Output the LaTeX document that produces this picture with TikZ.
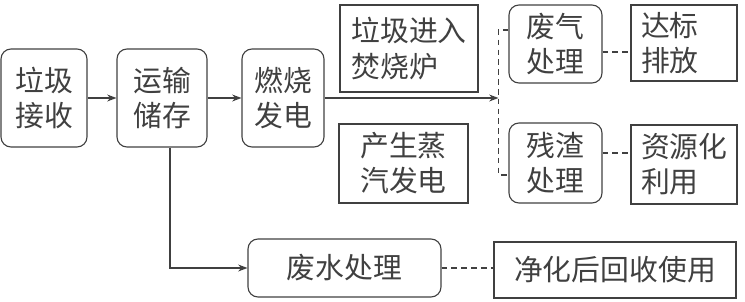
\documentclass[tikz,border=0pt]{standalone}
\usepackage{fontspec}
\newfontfamily\cjk{Noto Sans CJK SC}
\usetikzlibrary{arrows.meta}

\tikzset{
    box/.style={draw, rounded corners=2.5mm, align=left, inner sep=0pt,
        font=\cjk\fontsize{20.5}{25}\selectfont},
    plainbox/.style={box, sharp corners},
    link/.style={dash pattern=on 4pt off 3pt},
}

\begin{document}
\begin{tikzpicture}[>=Stealth, thick, color=black!75]
    \useasboundingbox (0,0) rectangle (18.625,7.525);

    % 主流程
    \node[box, minimum width=2.15cm, minimum height=2.45cm] (recv) at (1.1,5.075) {垃圾\\接收};
    \node[box, minimum width=2.25cm, minimum height=2.45cm] (store) at (4.05,5.075) {运输\\储存};
    \node[box, minimum width=2.05cm, minimum height=2.45cm] (burn) at (7.075,5.075) {燃烧\\发电};
    \draw[->] (recv) -- (store);
    \draw[->] (store) -- (burn);

    % 说明
    \node[plainbox, minimum width=3.45cm, minimum height=2.175cm] (furnace) at (10.225,6.3125) {垃圾进入\\焚烧炉};
    \node[plainbox, minimum width=3.225cm, minimum height=1.975cm] (steam) at (10.0875,3.4375) {产生蒸\\汽发电};

    % 废气与残渣
    \node[box, minimum width=2.325cm, minimum height=1.95cm] (gas) at (13.8875,6.425) {废气\\处理};
    \node[box, minimum width=2.325cm, minimum height=2cm] (slag) at (13.8875,3.45) {残渣\\处理};
    \node[plainbox, minimum width=2.65cm, minimum height=1.9cm, text width=2.15cm] (std) at (17.1,6.45) {达标\\排放};
    \node[plainbox, minimum width=2.65cm, minimum height=1.975cm, text width=2.15cm] (reuse) at (17.1,3.4125) {资源化\\利用};

    % 分支
    \coordinate (split) at ([xshift=-2.5mm]gas.west);
    \draw[->] (burn) -- (burn -| split);
    \draw[link] ([yshift=3.5mm]gas.west) -- ++(-0.25,0) |- ([yshift=-3mm]slag.west);
    \draw[link] ([yshift=-2mm]gas.east) -- ([yshift=-2mm]gas.east -| std.west);
    \draw[link] ([yshift=2.5mm]slag.east) -- ([yshift=2.5mm]slag.east -| reuse.west);

    % 废水
    \node[box, minimum width=4.825cm, minimum height=1.45cm] (water) at (8.6125,0.825) {废水处理};
    \node[plainbox, minimum width=6.05cm, minimum height=1.4cm] (clean) at (15.375,0.775) {净化后回收使用};
    \draw[->] ([xshift=2mm]store.south) |- (water.west);
    \draw[link] (water.east) -- (water.east -| clean.west);
\end{tikzpicture}
\end{document}
